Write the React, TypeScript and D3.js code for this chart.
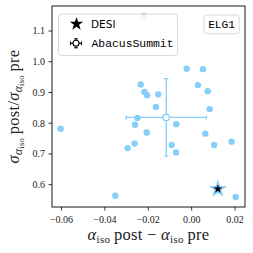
import React, { useEffect, useRef } from 'react';
import * as d3 from 'd3';

// AbacusSummit mocks: shift in alpha_iso and ratio of errors (post/pre recon)
const mockDalpha = [
  -0.0221, -0.0023, 0.0052, -0.0235, 0.0029, -0.0218, -0.0205, -0.0154, 0.0074,
  -0.0165, 0.0083, -0.025, -0.0604, -0.0261, -0.0071, -0.0207, 0.0063, 0.0184,
  -0.0263, -0.0092, 0.0104, -0.0295, -0.0072, -0.0352, 0.0203,
];
const mockRatio = [
  1.149, 0.977, 0.976, 0.926, 0.924, 0.902, 0.891, 0.894, 0.904,
  0.853, 0.846, 0.817, 0.782, 0.795, 0.797, 0.77, 0.766, 0.74,
  0.734, 0.729, 0.729, 0.719, 0.705, 0.564, 0.56,
];
// mean and std of the mocks
const abacusMean = [-0.0117, 0.819];
const abacusStd = [0.0185, 0.126];
// DESI data point
const desiPoint = [0.0121, 0.586];

const xTicks = [-0.06, -0.04, -0.02, 0.0, 0.02];
const yTicks = [0.6, 0.7, 0.8, 0.9, 1.0, 1.1];
const tracer = 'ELG1';

const blue = '#87cefa';
const serif = '"Liberation Serif", "DejaVu Serif", serif';
const mono = '"Liberation Mono", "DejaVu Sans Mono", monospace';

export default function App() {
  const svgRef = useRef(null);

  useEffect(() => {
    const svg = d3.select(svgRef.current);
    svg.selectAll('*').remove();

    const margin = { top: 6, right: 8, bottom: 46, left: 52 };
    const W = 253;
    const H = 253;

    const x = d3.scaleLinear().domain([-0.06438, 0.0246]).range([margin.left, W - margin.right]);
    const y = d3.scaleLinear().domain([0.5274, 1.1814]).range([H - margin.bottom, margin.top]);

    const fmtX = (d) => d3.format('.2f')(d).replace('-', '\u2212');
    const fmtY = (d) => d3.format('.1f')(d);

    // mock points
    svg
      .append('g')
      .selectAll('circle')
      .data(mockDalpha.map((d, i) => [d, mockRatio[i]]))
      .join('circle')
      .attr('cx', (d) => x(d[0]))
      .attr('cy', (d) => y(d[1]))
      .attr('r', 3.2)
      .attr('fill', blue);

    // error bar of mocks
    const eb = svg.append('g').attr('stroke', blue).attr('stroke-width', 1.3);
    const [mx, my] = abacusMean;
    const [sx, sy] = abacusStd;
    eb.append('line').attr('x1', x(mx - sx)).attr('x2', x(mx + sx)).attr('y1', y(my)).attr('y2', y(my));
    eb.append('line').attr('x1', x(mx)).attr('x2', x(mx)).attr('y1', y(my - sy)).attr('y2', y(my + sy));
    [mx - sx, mx + sx].forEach((v) => {
      eb.append('line').attr('x1', x(v)).attr('x2', x(v)).attr('y1', y(my) - 2).attr('y2', y(my) + 2);
    });
    [my - sy, my + sy].forEach((v) => {
      eb.append('line').attr('x1', x(mx) - 2).attr('x2', x(mx) + 2).attr('y1', y(v)).attr('y2', y(v));
    });
    eb.append('circle').attr('cx', x(mx)).attr('cy', y(my)).attr('r', 3.2).attr('fill', 'white');

    // DESI star
    const star = d3.symbol().type(d3.symbolStar).size(60);
    svg
      .append('path')
      .attr('d', star())
      .attr('transform', `translate(${x(desiPoint[0])},${y(desiPoint[1])})`)
      .attr('fill', 'black')
      .attr('stroke', blue)
      .attr('stroke-width', 1.5);

    // axes frame + ticks
    const [x0, x1] = x.range();
    const [y0, y1] = y.range();
    svg
      .append('rect')
      .attr('x', x0)
      .attr('y', y1)
      .attr('width', x1 - x0)
      .attr('height', y0 - y1)
      .attr('fill', 'none')
      .attr('stroke', 'black')
      .attr('stroke-width', 0.9);

    const xt = svg.append('g').selectAll('g').data(xTicks).join('g').attr('transform', (d) => `translate(${x(d)},${y0})`);
    xt.append('line').attr('y2', 3.5).attr('stroke', 'black').attr('stroke-width', 0.8);
    xt.append('text')
      .attr('y', 16)
      .attr('text-anchor', 'middle')
      .attr('font-family', serif)
      .attr('font-size', 10)
      .attr('fill', '#222')
      .text(fmtX);

    const yt = svg.append('g').selectAll('g').data(yTicks).join('g').attr('transform', (d) => `translate(${x0},${y(d)})`);
    yt.append('line').attr('x2', -3.5).attr('stroke', 'black').attr('stroke-width', 0.8);
    yt.append('text')
      .attr('x', -7)
      .attr('dy', '0.33em')
      .attr('text-anchor', 'end')
      .attr('font-family', serif)
      .attr('font-size', 10)
      .attr('fill', '#222')
      .text(fmtY);

    // axis labels
    const xl = svg
      .append('text')
      .attr('x', (x0 + x1) / 2)
      .attr('y', 240)
      .attr('text-anchor', 'middle')
      .attr('font-family', serif)
      .attr('font-size', 16.5)
      .attr('letter-spacing', 0.3)
      .attr('fill', '#222');
    const alphaIso = (t, tail) => {
      t.append('tspan').attr('font-style', 'italic').text('\u03b1');
      t.append('tspan').attr('font-size', 11).attr('dy', 3).text('iso');
      t.append('tspan').attr('dy', -3).text(tail);
    };
    alphaIso(xl, '\u2009post \u2212 ');
    alphaIso(xl, '\u2009pre');

    const yl = svg
      .append('text')
      .attr('transform', `translate(19,${(y0 + y1) / 2}) rotate(-90)`)
      .attr('text-anchor', 'middle')
      .attr('font-family', serif)
      .attr('font-size', 16.5)
      .attr('letter-spacing', 0.3)
      .attr('fill', '#222');
    const sigma = (t, tail) => {
      t.append('tspan').attr('font-style', 'italic').text('\u03c3');
      t.append('tspan').attr('font-style', 'italic').attr('font-size', 11.5).attr('dy', 3).text('\u03b1');
      t.append('tspan').attr('font-size', 8.5).attr('dy', 2).text('iso');
      t.append('tspan').attr('dy', -5).text(tail);
    };
    sigma(yl, '\u2009post/');
    sigma(yl, '\u2009pre');

    // legend
    const lg = svg.append('g');
    lg.append('rect')
      .attr('x', 58.5)
      .attr('y', 14)
      .attr('width', 119)
      .attr('height', 41.5)
      .attr('rx', 3)
      .attr('fill', 'white')
      .attr('fill-opacity', 0.8)
      .attr('stroke', '#d0d0d0')
      .attr('stroke-width', 0.8);
    lg.append('path')
      .attr('d', d3.symbol().type(d3.symbolStar).size(56)())
      .attr('transform', 'translate(76.5,24)')
      .attr('fill', 'black');
    lg.append('text')
      .attr('x', 91)
      .attr('y', 28.3)
      .attr('font-family', '"DejaVu Sans", sans-serif')
      .attr('font-size', 10.5)
      .text('DESI');
    const lm = lg.append('g').attr('transform', 'translate(76,43.3)').attr('stroke', 'black').attr('stroke-width', 1.1);
    lm.append('line').attr('x1', -5.5).attr('x2', 5.5);
    lm.append('line').attr('y1', -4.5).attr('y2', 4.5);
    lm.append('line').attr('x1', -5.5).attr('x2', -5.5).attr('y1', -1.8).attr('y2', 1.8);
    lm.append('line').attr('x1', 5.5).attr('x2', 5.5).attr('y1', -1.8).attr('y2', 1.8);
    lm.append('line').attr('x1', -1.8).attr('x2', 1.8).attr('y1', -4.5).attr('y2', -4.5);
    lm.append('line').attr('x1', -1.8).attr('x2', 1.8).attr('y1', 4.5).attr('y2', 4.5);
    lm.append('circle').attr('r', 3).attr('fill', 'white');
    lg.append('text')
      .attr('x', 91.5)
      .attr('y', 46.8)
      .attr('font-family', mono)
      .attr('font-size', 11.4)
      .text('AbacusSummit');

    // tracer label
    const tg = svg.append('g');
    tg.append('rect')
      .attr('x', 204)
      .attr('y', 15)
      .attr('width', 35.3)
      .attr('height', 18.7)
      .attr('rx', 3)
      .attr('fill', 'white')
      .attr('fill-opacity', 0.8)
      .attr('stroke', '#d0d0d0')
      .attr('stroke-width', 0.8);
    tg.append('text')
      .attr('x', 221.6)
      .attr('y', 28.3)
      .attr('text-anchor', 'middle')
      .attr('font-family', mono)
      .attr('font-size', 11.2)
      .text(tracer);
  }, []);

  return (
    <div>
      <svg
        ref={svgRef}
        width={253}
        height={253}
        style={{ position: 'absolute', left: 0, top: 0, background: 'white' }}
      />
    </div>
  );
}
